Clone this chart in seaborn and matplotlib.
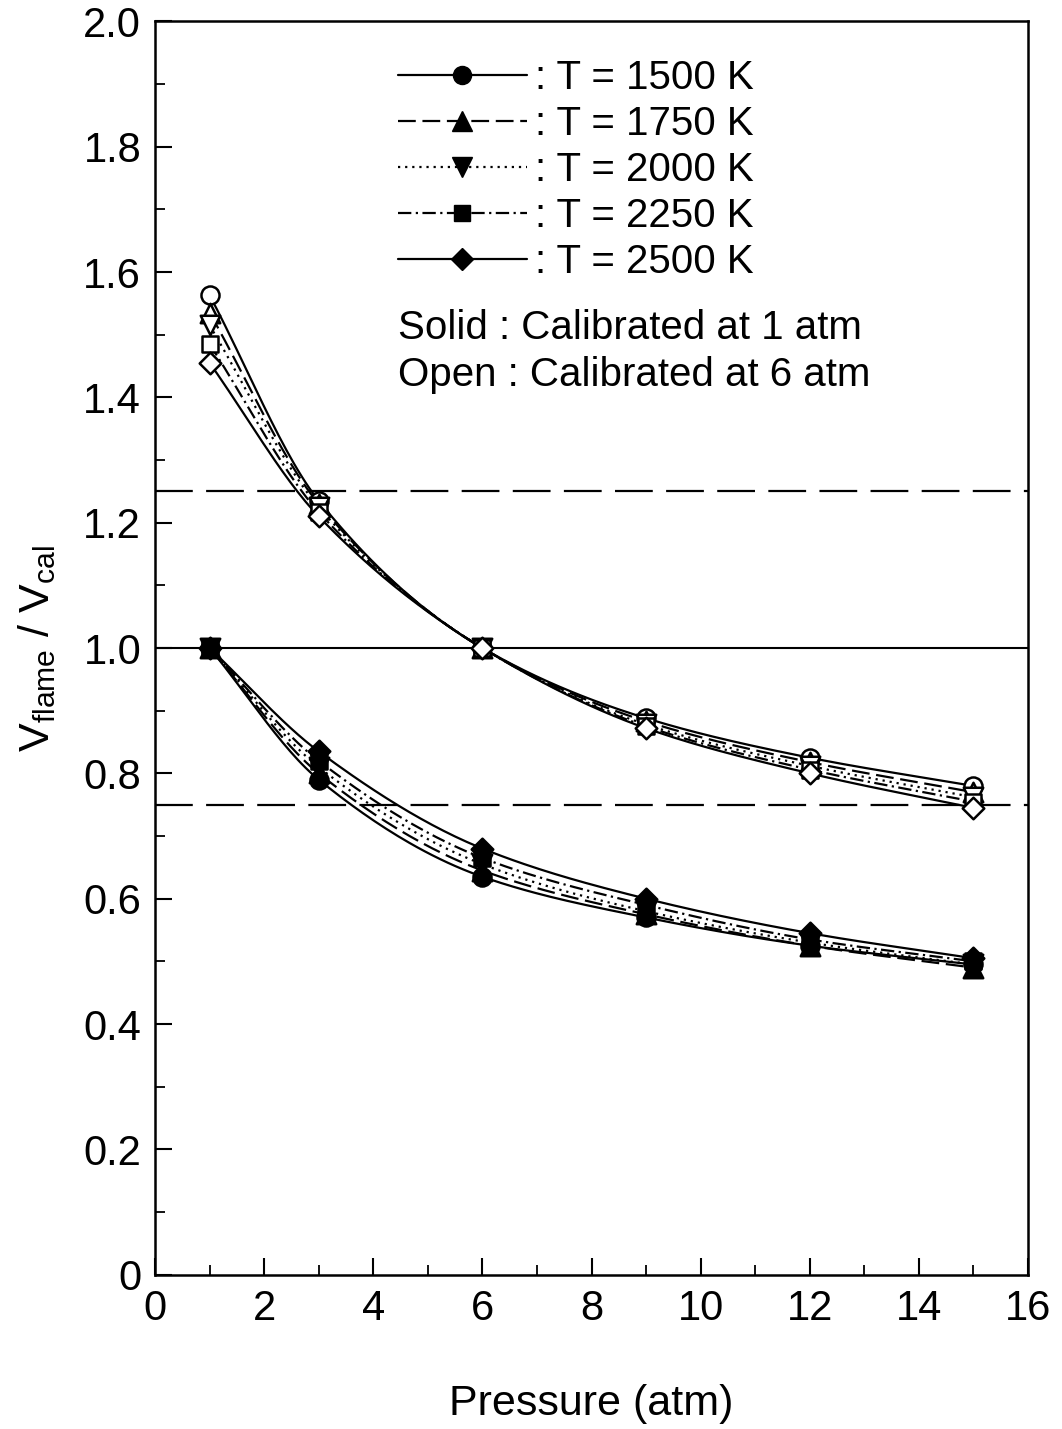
import numpy as np
import pandas as pd
import matplotlib
matplotlib.use("Agg")
import matplotlib.pyplot as plt
from matplotlib.lines import Line2D
from matplotlib.ticker import MultipleLocator
import seaborn as sns

# ---------------- data ----------------
pressure = [1, 3, 6, 9, 12, 15]
temps = ["1500", "1750", "2000", "2250", "2500"]

# Solid symbols: calibrated at 1 atm
cal1_1500 = [1.0, 0.79, 0.635, 0.57, 0.525, 0.495]
cal1_1750 = [1.0, 0.80, 0.645, 0.575, 0.525, 0.49]
cal1_2000 = [1.0, 0.81, 0.655, 0.58, 0.53, 0.495]
cal1_2250 = [1.0, 0.82, 0.665, 0.59, 0.535, 0.50]
cal1_2500 = [1.0, 0.835, 0.68, 0.60, 0.545, 0.505]

# Open symbols: calibrated at 6 atm
cal6_1500 = [1.563, 1.235, 1.0, 0.888, 0.825, 0.78]
cal6_1750 = [1.535, 1.23, 1.0, 0.883, 0.818, 0.77]
cal6_2000 = [1.515, 1.225, 1.0, 0.878, 0.812, 0.762]
cal6_2250 = [1.485, 1.217, 1.0, 0.875, 0.806, 0.755]
cal6_2500 = [1.455, 1.21, 1.0, 0.872, 0.80, 0.745]

ref_levels = [0.75, 1.0, 1.25]

cal1 = [cal1_1500, cal1_1750, cal1_2000, cal1_2250, cal1_2500]
cal6 = [cal6_1500, cal6_1750, cal6_2000, cal6_2250, cal6_2500]

# ---------------- styles ----------------
markers = ["o", "^", "v", "s", "D"]
msizes = [13, 14, 14, 11, 11]
dashes = [(None, None), (8, 3), (1, 2.2), (6, 2, 1, 2), (None, None)]


def smooth(x, y, n=200):
    """Monotone cubic Hermite curve through the data points (for drawing)."""
    x = np.asarray(x, float)
    y = np.asarray(y, float)
    h = np.diff(x)
    d = np.diff(y) / h
    m = np.zeros_like(y)
    m[0], m[-1] = d[0], d[-1]
    for i in range(1, len(x) - 1):
        if d[i - 1] * d[i] <= 0:
            m[i] = 0
        else:
            w1 = 2 * h[i] + h[i - 1]
            w2 = h[i] + 2 * h[i - 1]
            m[i] = (w1 + w2) / (w1 / d[i - 1] + w2 / d[i])
    xs = np.linspace(x[0], x[-1], n)
    idx = np.clip(np.searchsorted(x, xs) - 1, 0, len(x) - 2)
    t = (xs - x[idx]) / h[idx]
    h00 = 2 * t**3 - 3 * t**2 + 1
    h10 = t**3 - 2 * t**2 + t
    h01 = -2 * t**3 + 3 * t**2
    h11 = t**3 - t**2
    ys = h00 * y[idx] + h10 * h[idx] * m[idx] + h01 * y[idx + 1] + h11 * h[idx] * m[idx + 1]
    return xs, ys


sns.set_theme(style="ticks")
plt.rcParams["font.family"] = ["Liberation Sans", "DejaVu Sans"]
plt.rcParams["mathtext.fontset"] = "custom"
plt.rcParams["mathtext.rm"] = "Liberation Sans"
plt.rcParams["mathtext.it"] = "Liberation Sans"
for key in ["text.color", "axes.labelcolor", "xtick.color", "ytick.color",
            "axes.edgecolor"]:
    plt.rcParams[key] = "black"

fig = plt.figure(figsize=(10.62, 14.29), dpi=100)
ax = fig.add_axes([0.146, 0.108, 0.822, 0.877])

for lv in ref_levels:
    if lv == 1.0:
        ax.axhline(lv, color="black", lw=1.5, zorder=1)
    else:
        ax.axhline(lv, color="black", lw=1.6, dashes=(17, 6), zorder=1)

for i, T in enumerate(temps):
    for series, filled in ((cal1[i], True), (cal6[i], False)):
        xs, ys = smooth(pressure, series)
        df_line = pd.DataFrame({"P": xs, "V": ys})
        line_kw = dict(color="black", lw=1.6, zorder=2)
        if dashes[i][0] is not None:
            line_kw["dashes"] = dashes[i]
        sns.lineplot(data=df_line, x="P", y="V", ax=ax, sort=False,
                     estimator=None, **line_kw)
        df_pts = pd.DataFrame({"P": pressure, "V": series})
        sns.scatterplot(data=df_pts, x="P", y="V", ax=ax, marker=markers[i],
                        s=msizes[i] ** 2,
                        facecolor="black" if filled else "white",
                        edgecolor="black", linewidth=1.8, zorder=3)

ax.set_xlim(0, 16)
ax.set_ylim(0, 2.0)
ax.xaxis.set_major_locator(MultipleLocator(2))
ax.xaxis.set_minor_locator(MultipleLocator(1))
ax.yaxis.set_minor_locator(MultipleLocator(0.1))
ax.set_yticks(np.arange(0, 2.01, 0.2))
ax.set_yticklabels(["0"] + [f"{v:.1f}" for v in np.arange(0.2, 2.01, 0.2)])
ax.tick_params(which="major", direction="in", length=12, width=1.5,
               labelsize=30, pad=10, top=False, right=False, colors="black")
ax.tick_params(which="minor", direction="in", length=7, width=1.3,
               top=False, right=False, colors="black")
for sp in ax.spines.values():
    sp.set_visible(True)
    sp.set_linewidth(1.8)
    sp.set_color("black")

ax.set_xlabel("Pressure (atm)", fontsize=31, labelpad=40, color="black")
ax.set_ylabel(r"$\mathregular{V_{flame}\ /\ V_{cal}}$", fontsize=31,
              labelpad=18, color="black")

handles = []
labels = []
for i, T in enumerate(temps):
    kw = dict(color="black", lw=1.6, marker=markers[i], markersize=msizes[i],
              markerfacecolor="black", markeredgecolor="black")
    if dashes[i][0] is not None:
        kw["dashes"] = dashes[i]
    handles.append(Line2D([], [], **kw))
    labels.append(f": T = {T} K")

leg = ax.legend(handles, labels, loc="upper left", bbox_to_anchor=(0.278, 0.97),
                frameon=False, fontsize=29, handlelength=3.2, handletextpad=0.2,
                labelspacing=0.2, borderpad=0, borderaxespad=0, numpoints=1)
for t in leg.get_texts():
    t.set_color("black")

ax.text(0.278, 0.755, "Solid : Calibrated at 1 atm", transform=ax.transAxes,
        fontsize=29, va="center", ha="left", color="black")
ax.text(0.278, 0.718, "Open : Calibrated at 6 atm", transform=ax.transAxes,
        fontsize=29, va="center", ha="left", color="black")

fig.savefig("out.png", dpi=100, facecolor="white")
